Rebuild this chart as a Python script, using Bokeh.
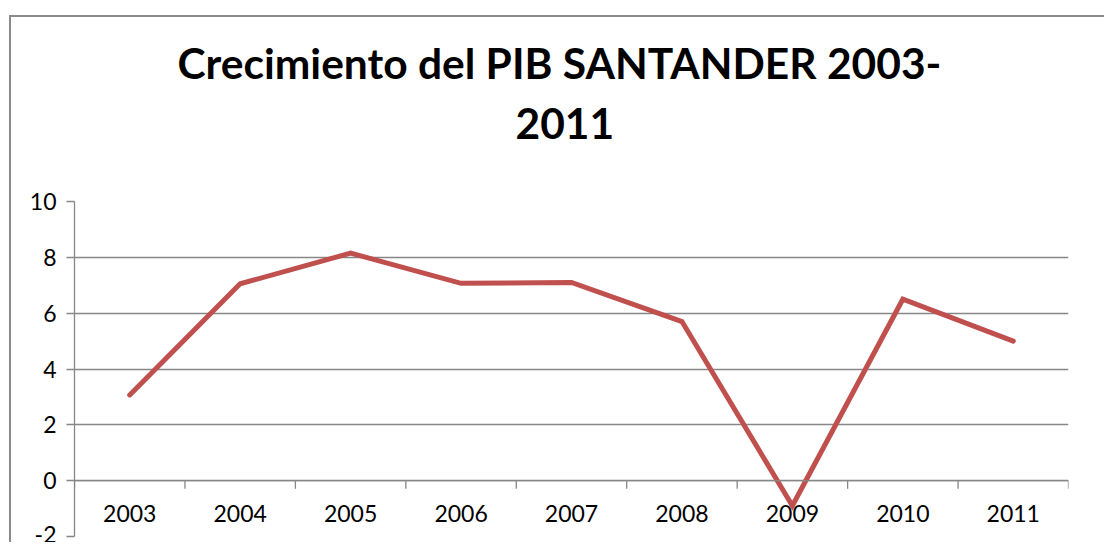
from bokeh.plotting import figure
from bokeh.models import Range1d, FixedTicker, Title, ColumnDataSource, Span, CustomJSTickFormatter
from bokeh.core.properties import value
from bokeh.embed import file_html
from bokeh.resources import INLINE

years = ["2003", "2004", "2005", "2006", "2007", "2008", "2009", "2010", "2011"]
growth = [3.07, 7.05, 8.15, 7.07, 7.1, 5.7, -0.9, 6.5, 5.0]
y_ticks = [-2, 0, 2, 4, 6, 8, 10]
title_lines = ["Crecimiento del PIB SANTANDER 2003-", "2011"]

GRID = "#878787"
FONT = "Lato"

n = len(years)
xs = [i + 0.5 for i in range(n)]

p = figure(width=1095, height=527, output_backend="svg", toolbar_location=None,
           x_range=Range1d(0, n), y_range=Range1d(y_ticks[0], y_ticks[-1]),
           x_axis_location=None, min_border_left=63, min_border_right=38,
           min_border_top=184, min_border_bottom=8, title=None)
p.styles = {"margin-left": "9px", "margin-top": "15px",
            "border-left": "2px solid #8a8a8a", "border-top": "2px solid #8a8a8a"}
p.outline_line_color = None
p.xgrid.visible = False
p.ygrid.ticker = FixedTicker(ticks=y_ticks)
p.ygrid.grid_line_color = GRID
p.ygrid.grid_line_width = 1.3

ax = p.yaxis[0]
ax.ticker = FixedTicker(ticks=y_ticks)
ax.formatter = CustomJSTickFormatter(code="return String(tick)")
ax.axis_line_color = GRID
ax.axis_line_width = 1.3
ax.major_tick_line_color = GRID
ax.major_tick_line_width = 1.3
ax.major_tick_out = 8
ax.major_tick_in = 0
ax.minor_tick_line_color = None
ax.major_label_text_font = FONT
ax.major_label_text_font_size = "23px"
ax.major_label_text_color = "#000000"
ax.major_label_standoff = 10

# category axis drawn at y = 0
p.add_layout(Span(location=0, dimension="width", line_color=GRID, line_width=1.3))
bounds = list(range(n + 1))
p.segment(x0=bounds, y0=[0] * len(bounds), x1=bounds, y1=[-0.29] * len(bounds),
          line_color=GRID, line_width=1.3)
p.text(x=xs, y=[0] * n, text=years, text_font=value(FONT), text_font_size="23px",
       text_align="center", text_baseline="middle", y_offset=33, text_color="#000000")

src = ColumnDataSource(dict(x=xs, y=growth))
p.line("x", "y", source=src, line_color="#C0504D", line_width=5,
       line_join="miter", line_cap="round")

# second title line sits next to the frame, first line stacked above it
t2 = Title(text=title_lines[1], align="left", text_font=FONT,
           text_font_size="42.5px", text_font_style="bold", text_color="#000000",
           standoff=126, offset=441)
p.add_layout(t2, "above")
t1 = Title(text=title_lines[0], align="left", text_font=FONT,
           text_font_size="42.5px", text_font_style="bold", text_color="#000000",
           standoff=-90, offset=103)
p.add_layout(t1, "above")

open("out.html", "w").write(file_html(p, INLINE))
